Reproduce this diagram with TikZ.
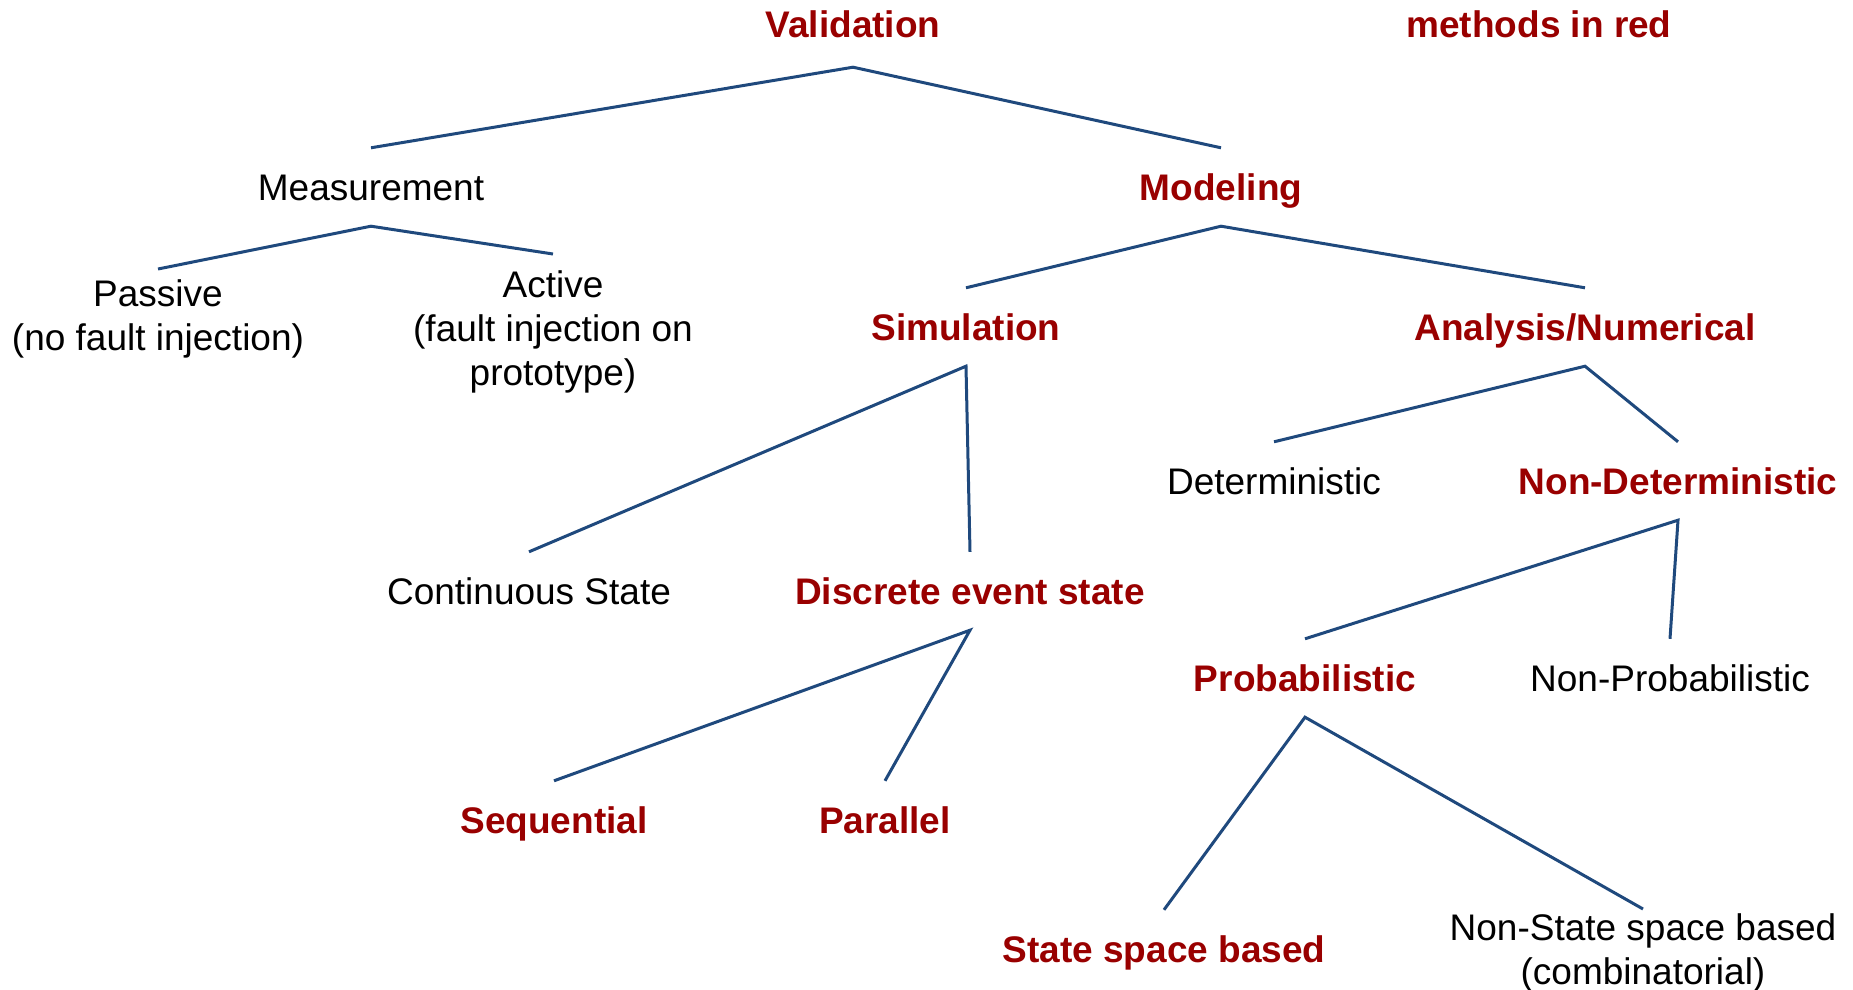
\documentclass[tikz,border=0pt]{standalone}
\usepackage{fontspec}
\setmainfont{Liberation Sans}
\definecolor{mred}{HTML}{990000}
\definecolor{lblue}{HTML}{1F497D}
\begin{document}
\begin{tikzpicture}[x=1pt,y=-1pt,
  lab/.style={font=\fontsize{37}{44}\selectfont, inner sep=0pt, text height=26.5pt, text depth=0pt, minimum height=78pt},
  rlab/.style={lab, font=\fontsize{37}{44}\selectfont\bfseries, text=mred},
  mlab/.style={font=\fontsize{37}{44}\selectfont, inner sep=0pt, align=center, anchor=north},
  link/.style={draw=lblue, line width=3pt}]
\useasboundingbox (0,0) rectangle (1853,990);
% nodes
\node[rlab] (val) at (853,24) {Validation};
\node[rlab] (legend) at (1539,24) {methods in red};
\node[lab] (mea) at (371,187) {Measurement};
\node[rlab] (mod) at (1221,187) {Modeling};
\node[mlab] (pas) at (158,279) {Passive\\(no fault injection)};
\node[mlab] (act) at (553,270) {Active\\(fault injection on\\prototype)};
\node[rlab] (sim) at (966,327) {Simulation};
\node[rlab] (ana) at (1585,327) {Analysis/Numerical};
\node[lab] (det) at (1274,481) {Deterministic};
\node[rlab] (ndet) at (1678,481) {Non-Deterministic};
\node[lab] (cont) at (529,591) {Continuous State};
\node[rlab] (disc) at (970,591) {Discrete event state};
\node[rlab] (prob) at (1305,678) {Probabilistic};
\node[lab] (nprob) at (1670,678) {Non-Probabilistic};
\node[rlab] (seq) at (554,820) {Sequential};
\node[rlab] (par) at (885,820) {Parallel};
\node[rlab] (ssb) at (1164,949) {State space based};
\node[mlab] (nssb) at (1643,913) {Non-State space based\\(combinatorial)};
% connectors
\draw[link] (mea.north) -- ([yshift=-4pt]val.south) -- (mod.north);
\draw[link] ([yshift=10pt]pas.north) -- (mea.south) -- ([yshift=16pt]act.north);
\draw[link] (sim.north) -- (mod.south) -- (ana.north);
\draw[link] (cont.north) -- (sim.south) -- (disc.north);
\draw[link] (det.north) -- (ana.south) -- (ndet.north);
\draw[link] (prob.north) -- (ndet.south) -- (nprob.north);
\draw[link] (seq.north) -- (disc.south) -- (par.north);
\draw[link] (ssb.north) -- (prob.south) -- ([yshift=4pt]nssb.north);
\end{tikzpicture}
\end{document}
